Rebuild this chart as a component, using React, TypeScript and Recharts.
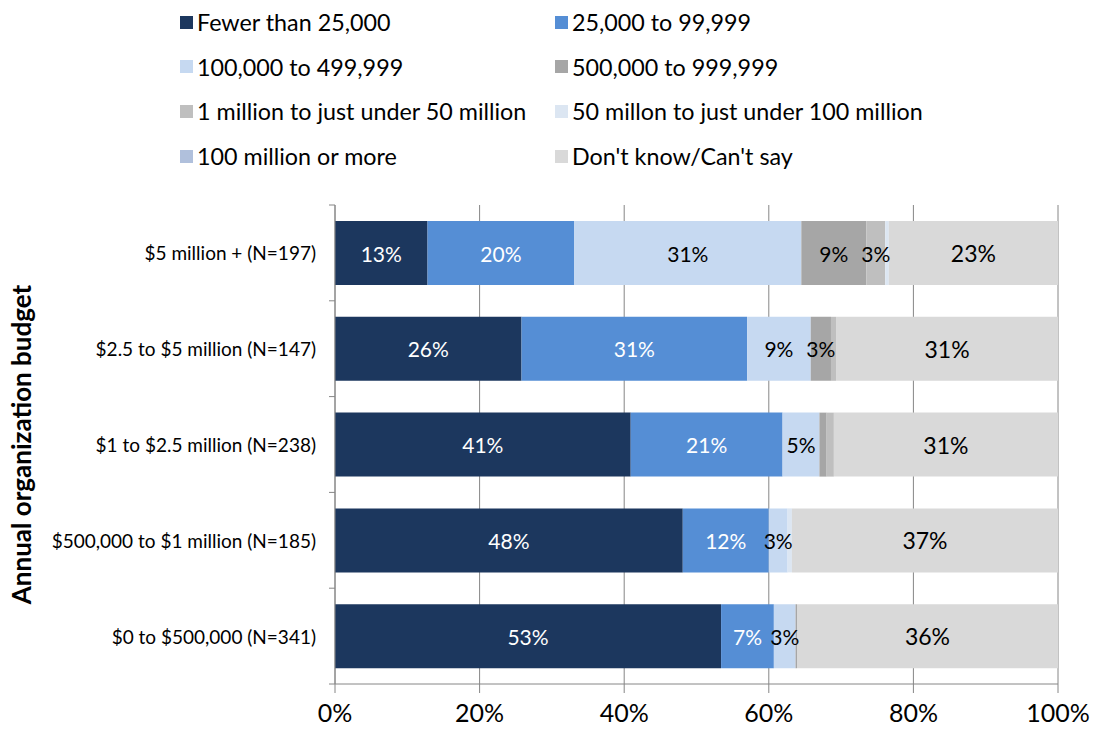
import { Bar, BarChart, CartesianGrid, LabelList, XAxis, YAxis } from "recharts"

const budgets = [
  "$5 million + (N=197)",
  "$2.5 to $5 million (N=147)",
  "$1 to $2.5 million (N=238)",
  "$500,000 to $1 million (N=185)",
  "$0 to $500,000 (N=341)",
]

// share of respondents (%) per budget group
const fewer25k = [12.8, 25.8, 40.9, 48.1, 53.4]
const from25k = [20.3, 31.2, 21.0, 11.9, 7.3]
const from100k = [31.4, 8.8, 5.1, 2.6, 3.0]
const from500k = [9.0, 2.8, 1.0, 0, 0.2]
const from1m = [2.6, 0.7, 1.0, 0, 0]
const from50m = [0.5, 0, 0, 0.6, 0]
const over100m = [0, 0, 0, 0, 0]
const dontKnow = [23.4, 30.7, 31.0, 36.8, 36.1]

const xTicks = [0, 20, 40, 60, 80, 100]

const series = [
  { key: "fewer25k", name: "Fewer than 25,000", values: fewer25k, color: "#1C375E", text: "#fff", size: 21 },
  { key: "from25k", name: "25,000 to 99,999", values: from25k, color: "#558ED5", text: "#fff", size: 21 },
  { key: "from100k", name: "100,000 to 499,999", values: from100k, color: "#C6D9F1", text: "#000", size: 21 },
  { key: "from500k", name: "500,000 to 999,999", values: from500k, color: "#A6A6A6", text: "#000", size: 21 },
  { key: "from1m", name: "1 million to just under 50 million", values: from1m, color: "#BFBFBF", text: "#000", size: 21 },
  { key: "from50m", name: "50 millon to just under 100 million", values: from50m, color: "#DCE6F2", text: "#000", size: 21 },
  { key: "over100m", name: "100 million or more", values: over100m, color: "#B0C0DC", text: "#000", size: 21 },
  { key: "dontKnow", name: "Don't know/Can't say", values: dontKnow, color: "#D9D9D9", text: "#000", size: 23 },
]

const data = budgets.map((name, i) => {
  const row: Record<string, string | number> = { name }
  series.forEach((s) => (row[s.key] = s.values[i]))
  return row
})

const font = "Lato, 'Open Sans', sans-serif"
const axisGray = "#868686"
const labelGap = 19

function segmentLabel(fill: string, size: number) {
  return (props: any) => {
    const { x, y, width, height, value } = props
    if (value == null || value < 2.5) return null
    return (
      <text
        x={x + width / 2}
        y={y + height / 2}
        fill={fill}
        fontSize={size}
        fontFamily={font}
        textAnchor="middle"
        dominantBaseline="central"
      >
        {Math.round(value)}%
      </text>
    )
  }
}

// category label plus Excel-style tick marks at the band edges
function BudgetTick(props: any) {
  const { x, y, payload, index, visibleTicksCount } = props
  const half = payload?.offset ?? 0
  const axisX = x + labelGap
  const last = index === (visibleTicksCount ?? budgets.length) - 1
  return (
    <g>
      <text x={x} y={y} textAnchor="end" dominantBaseline="central" fill="#000" fontSize={19} fontFamily={font}>
        {payload.value}
      </text>
      <line x1={axisX - 6} x2={axisX} y1={y - half} y2={y - half} stroke={axisGray} />
      {last && <line x1={axisX - 6} x2={axisX} y1={y + half} y2={y + half} stroke={axisGray} />}
    </g>
  )
}

function LegendBlock() {
  return (
    <div style={{ position: "absolute", left: 0, top: 0, width: 1094, height: 180, fontFamily: font, fontSize: 23.3 }}>
      {series.map((s, i) => {
        const col = i % 2
        const row = Math.floor(i / 2)
        return (
          <div
            key={s.key}
            style={{
              position: "absolute",
              left: col === 0 ? 180 : 555,
              top: 22 + row * 44.7 - 14,
              height: 28,
              display: "flex",
              alignItems: "center",
              whiteSpace: "nowrap",
              color: "#000",
            }}
          >
            <span style={{ width: 13, height: 13, background: s.color, marginRight: 4, display: "inline-block" }} />
            {s.name}
          </div>
        )
      })}
    </div>
  )
}

export default function App() {
  return (
    <div style={{ position: "absolute", left: 0, top: 0, width: 1094, height: 729, background: "#fff" }}>
      <LegendBlock />
      <BarChart
        width={1094}
        height={729}
        data={data}
        layout="vertical"
        margin={{ top: 205, right: 36, bottom: 0, left: 0 }}
        barSize={64}
      >
        <CartesianGrid horizontal={false} stroke={axisGray} strokeWidth={1} />
        <XAxis
          type="number"
          domain={[0, 100]}
          ticks={xTicks}
          tickFormatter={(v) => `${v}%`}
          height={45}
          axisLine={{ stroke: axisGray }}
          tickLine={{ stroke: axisGray }}
          tickSize={9}
          tickMargin={11}
          tick={{ fill: "#000", fontSize: 25, fontFamily: font }}
        />
        <YAxis
          type="category"
          dataKey="name"
          width={335}
          axisLine={{ stroke: axisGray }}
          tickLine={false}
          tickSize={6}
          tickMargin={13}
          tick={<BudgetTick />}
          label={{
            value: "Annual organization budget",
            angle: -90,
            position: "insideLeft",
            offset: 22,
            style: { fill: "#000", fontSize: 26, fontWeight: "bold", fontFamily: font, textAnchor: "middle" },
          }}
        />
        {series.map((s) => (
          <Bar key={s.key} dataKey={s.key} name={s.name} stackId="a" fill={s.color} isAnimationActive={false}>
            <LabelList dataKey={s.key} content={segmentLabel(s.text, s.size)} />
          </Bar>
        ))}
      </BarChart>
    </div>
  )
}
